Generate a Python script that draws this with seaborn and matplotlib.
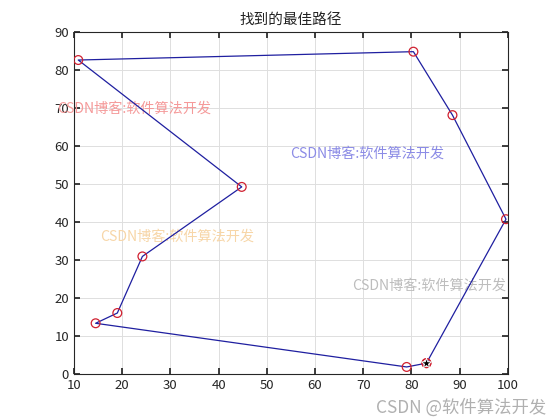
import matplotlib
matplotlib.use("Agg")
import matplotlib.pyplot as plt
import seaborn as sns
import pandas as pd

# Route order (closed tour, starting at the star)
route_x = [83.1, 79.0, 14.5, 19.0, 24.2, 44.8, 10.9, 80.4, 88.5, 99.6, 83.1]
route_y = [2.8, 1.8, 13.3, 16.0, 30.9, 49.2, 82.6, 84.8, 68.1, 40.7, 2.8]
start_x = [83.1]
start_y = [2.8]

title_text = "找到的最佳路径"
xticks = [10, 20, 30, 40, 50, 60, 70, 80, 90, 100]
yticks = [0, 10, 20, 30, 40, 50, 60, 70, 80, 90]

wm_text = "CSDN博客:软件算法开发"
wm_x = [6.5, 54.8, 15.4, 67.7]
wm_y = [69.7, 57.9, 36.0, 23.2]
wm_colors = ["#f59a9a", "#8c8ce6", "#f7d6a8", "#bdbdbd"]

sns.set_theme(style="whitegrid")
plt.rcParams['font.family'] = ['Noto Sans CJK SC', 'DejaVu Sans']

df = pd.DataFrame({"x": route_x, "y": route_y, "order": range(len(route_x))})

fig = plt.figure(figsize=(5.6, 4.2), dpi=100)
ax = fig.add_axes([0.132, 0.110, 0.775, 0.814])

sns.lineplot(data=df, x="x", y="y", sort=False, color="#1f1fa0", linewidth=0.9, ax=ax, estimator=None)
sns.scatterplot(data=df, x="x", y="y", s=40, facecolor="none", edgecolor="#d02030", linewidth=0.9, ax=ax, zorder=3)
sns.scatterplot(x=start_x, y=start_y, marker="*", s=60, color="black", ax=ax, zorder=4)

for tx, ty, c in zip(wm_x, wm_y, wm_colors):
    ax.text(tx, ty, wm_text, color=c, fontsize=10.2, va="center", ha="left",
            family=['Noto Sans CJK SC', 'DejaVu Sans'], clip_on=False, zorder=1)

ax.set_xlim(10, 100)
ax.set_ylim(0, 90)
ax.set_xticks(xticks)
ax.set_yticks(yticks)
ax.set_xlabel("")
ax.set_ylabel("")
ax.set_title(title_text, fontsize=10.5, color="#222222", pad=6)
ax.set_facecolor("white")
ax.grid(True, color="#dedede", linewidth=0.7)
for s in ax.spines.values():
    s.set_color("#262626")
    s.set_linewidth(0.8)
ax.tick_params(axis="both", direction="in", length=4, labelsize=9.5, colors="#262626",
               top=True, right=True, bottom=True, left=True)
ax.tick_params(axis="both", labeltop=False, labelright=False)

fig.text(0.975, 0.03, "CSDN @软件算法开发", color="#b0b0b0", fontsize=12.5, ha="right", va="center",
         family=['Noto Sans CJK SC', 'DejaVu Sans'])

fig.savefig("out.png", dpi=100, facecolor="white")
